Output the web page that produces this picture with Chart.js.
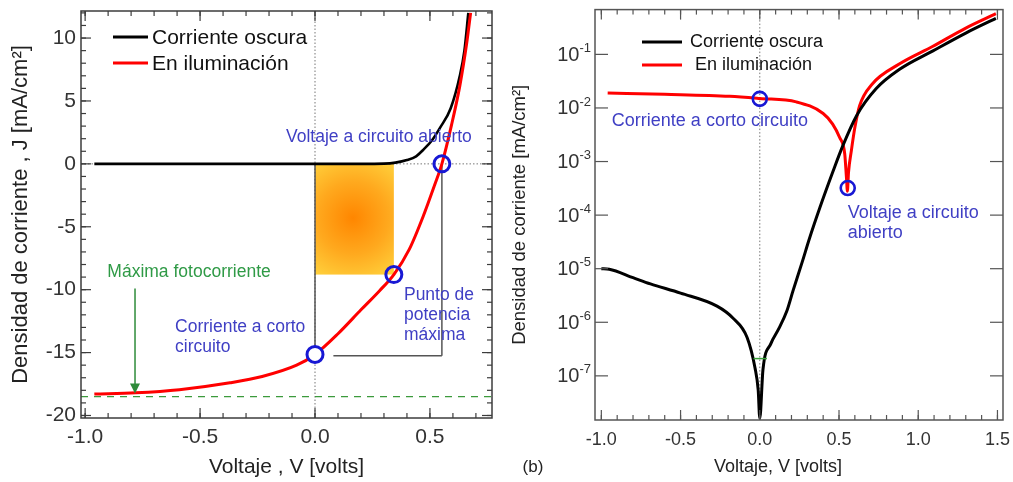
<!DOCTYPE html>
<html><head><meta charset="utf-8">
<script src="https://cdn.jsdelivr.net/npm/chart.js@4.4.1/dist/chart.umd.min.js"></script>
<style>
html,body{margin:0;padding:0;background:#fff;}
#wrap{position:relative;width:1013px;height:482px;overflow:hidden;background:#fff}
.panel{position:absolute;top:0;height:482px}
</style></head><body>
<div id="wrap">
<div class="panel" style="left:0;width:505px"><canvas id="c1"></canvas></div>
<div class="panel" style="left:505px;width:508px"><canvas id="c2"></canvas></div>
</div>
<script>
// ---------- DATA: left panel (linear J-V) ----------
const leftTicksV = [-1.0, -0.5, 0.0, 0.5];
const leftTicksJ = [-20, -15, -10, -5, 0, 5, 10];
const darkV_L  = [-0.96, -0.5, 0.0, 0.2, 0.3, 0.35, 0.40, 0.44, 0.47, 0.51, 0.545, 0.59, 0.63, 0.65, 0.667];
const darkJ_L  = [0, 0, 0, 0, 0.02, 0.1, 0.3, 0.6, 1.1, 1.9, 2.9, 4.4, 7.0, 9.0, 12.0];
const illumV_L = [-0.96, -0.78, -0.59, -0.37, -0.23, -0.08, 0.0, 0.1, 0.2, 0.28, 0.343, 0.41, 0.47, 0.52, 0.552, 0.594, 0.63, 0.66, 0.677];
const illumJ_L = [-18.3, -18.2, -17.95, -17.4, -16.9, -16.0, -15.15, -13.5, -11.6, -10.1, -8.8, -6.8, -4.2, -1.7, 0, 3.1, 6.2, 9.6, 12.0];
const keyV_L = [0.0, 0.343, 0.552];      // Jsc, Pmax, Voc
const keyJ_L = [-15.15, -8.8, 0.0];
const maxPhotoJ = -18.5;
const arrowV = -0.783;

// ---------- DATA: right panel (log |J|-V) ----------
const rightTicksV = [-1.0, -0.5, 0.0, 0.5, 1.0, 1.5];
const rightTicksExp = [-7, -6, -5, -4, -3, -2, -1];
const darkV_R  = [-1.0, -0.95, -0.8, -0.69, -0.5, -0.27, -0.17, -0.08, -0.03, -0.01, 0.0, 0.02, 0.07, 0.12, 0.17, 0.21, 0.27, 0.31, 0.38, 0.46, 0.525, 0.61, 0.735, 0.88, 1.09, 1.3, 1.49];
const darkJ_R  = [1.0e-5, 9.8e-6, 6.8e-6, 5.2e-6, 3.5e-6, 2.0e-6, 1.2e-6, 5.2e-7, 1.4e-7, 5.4e-8, 1.6e-8, 1.3e-7, 4.0e-7, 7.6e-7, 1.6e-6, 3.9e-6, 1.4e-5, 3.4e-5, 1.4e-4, 6.3e-4, 2.0e-3, 7.1e-3, 2.3e-2, 5.2e-2, 0.115, 0.25, 0.47];
const illumV_R = [-0.96, -0.6, -0.19, 0.0, 0.23, 0.4, 0.46, 0.504, 0.536, 0.547, 0.553, 0.56, 0.578, 0.6, 0.63, 0.71, 0.88, 1.09, 1.3, 1.49];
const illumJ_R = [1.9e-2, 1.8e-2, 1.65e-2, 1.5e-2, 1.3e-2, 7.9e-3, 5.0e-3, 2.8e-3, 1.4e-3, 5.0e-4, 2.8e-4, 6.3e-4, 1.6e-3, 4.3e-3, 1.1e-2, 2.8e-2, 6.6e-2, 0.14, 0.31, 0.575];
const keyV_R = [0.0, 0.555];
const keyJ_R = [1.48e-2, 3.2e-4];

// ---------- helpers ----------
const FONT = "'Liberation Sans', Arial, Helvetica, sans-serif";
Chart.defaults.font.family = FONT;
const pts = (xs, ys) => xs.map((v, i) => ({x: v, y: ys[i]}));
const BLUE_TXT = '#3f3fc4', BLUE_CIRC = '#1818d4', GREEN = '#2f9a46';
const noPadY = s => { s.paddingTop = 0; s.paddingBottom = 0; };
const noPadX = s => { s.paddingLeft = 0; s.paddingRight = 0; };

function line(ctx, x1, y1, x2, y2) { ctx.beginPath(); ctx.moveTo(x1, y1); ctx.lineTo(x2, y2); ctx.stroke(); }
function text(ctx, s, x, y, size, color, align) {
  ctx.font = size + 'px ' + FONT; ctx.fillStyle = color; ctx.textAlign = align || 'left'; ctx.textBaseline = 'middle';
  ctx.fillText(s, x, y);
}
function drawFrameTicks(ctx, a, xs, ys, xMajor, xMinor, yMajor, yMinor, color, lMajX, lMinX, lMajY, lMinY) {
  ctx.save();
  ctx.strokeStyle = color; ctx.lineWidth = 1.5; ctx.setLineDash([]);
  ctx.strokeRect(a.left, a.top, a.right - a.left, a.bottom - a.top);
  ctx.lineWidth = 1.2;
  const doX = (vals, len) => vals.forEach(v => { const p = xs.getPixelForValue(v); line(ctx, p, a.bottom, p, a.bottom - len); line(ctx, p, a.top, p, a.top + len); });
  const doY = (vals, len) => vals.forEach(v => { const p = ys.getPixelForValue(v); line(ctx, a.left, p, a.left + len, p); line(ctx, a.right, p, a.right - len, p); });
  doX(xMinor, lMinX); doX(xMajor, lMajX); doY(yMinor, lMinY); doY(yMajor, lMajY);
  ctx.restore();
}

// ---------- LEFT CHART ----------
const leftPlugin = {
  id: 'leftDecor',
  beforeDatasetsDraw(chart) {
    const {ctx, chartArea: a, scales: {x, y}} = chart;
    ctx.save();
    const x0 = x.getPixelForValue(0), x1 = x.getPixelForValue(keyV_L[1]);
    const y0 = y.getPixelForValue(0), y1 = y.getPixelForValue(keyJ_L[1]);
    const cx = x.getPixelForValue(0.165), cy = y.getPixelForValue(-4.3);
    const g = ctx.createRadialGradient(cx, cy, 0, cx, cy, 72);
    g.addColorStop(0, '#ff8600'); g.addColorStop(0.5, '#ffa91e'); g.addColorStop(1, '#ffd640');
    ctx.fillStyle = g; ctx.fillRect(x0, y0, x1 - x0, y1 - y0);
    ctx.strokeStyle = '#777'; ctx.lineWidth = 1; ctx.setLineDash([1.5, 2]);
    line(ctx, x0, a.top, x0, a.bottom);
    line(ctx, a.left, y0, a.right, y0);
    ctx.setLineDash([]); ctx.strokeStyle = '#555'; ctx.lineWidth = 1.5;
    const yj = y.getPixelForValue(keyJ_L[0]), yb = y.getPixelForValue(-15.25), xv = x.getPixelForValue(keyV_L[2]);
    line(ctx, x0, y0, x0, yj);
    line(ctx, xv, y0, xv, yb);
    line(ctx, x.getPixelForValue(0.08), yb, xv, yb);
    ctx.strokeStyle = '#3c9a3c'; ctx.lineWidth = 1.2; ctx.setLineDash([7, 6]);
    const ym = y.getPixelForValue(maxPhotoJ);
    line(ctx, a.left, ym, a.right, ym);
    ctx.restore();
  },
  afterDatasetsDraw(chart) {
    const {ctx, chartArea: a, scales: {x, y}} = chart;
    ctx.save();
    const xa = x.getPixelForValue(arrowV), ya1 = y.getPixelForValue(-9.9), ya2 = y.getPixelForValue(-18.25);
    ctx.strokeStyle = '#2e8b3a'; ctx.fillStyle = '#2e8b3a'; ctx.lineWidth = 1.5;
    line(ctx, xa, ya1, xa, ya2 - 8);
    ctx.beginPath(); ctx.moveTo(xa, ya2); ctx.lineTo(xa - 5, ya2 - 10); ctx.lineTo(xa + 5, ya2 - 10); ctx.closePath(); ctx.fill();
    const P = (v, j) => [x.getPixelForValue(v), y.getPixelForValue(j)];
    let p;
    p = P(0.278, 2.1);  text(ctx, 'Voltaje a circuito abierto', p[0], p[1], 17.5, BLUE_TXT, 'center');
    p = P(-0.609, -13.0); text(ctx, 'Corriente a corto', p[0], p[1], 17.5, BLUE_TXT, 'left');
    p = P(-0.609, -14.57); text(ctx, 'circuito', p[0], p[1], 17.5, BLUE_TXT, 'left');
    p = P(0.387, -10.47); text(ctx, 'Punto de', p[0], p[1], 17.5, BLUE_TXT, 'left');
    p = P(0.387, -12.05); text(ctx, 'potencia', p[0], p[1], 17.5, BLUE_TXT, 'left');
    p = P(0.387, -13.6); text(ctx, 'máxima', p[0], p[1], 17.5, BLUE_TXT, 'left');
    p = P(-0.548, -8.58); text(ctx, 'Máxima fotocorriente', p[0], p[1], 17.5, GREEN, 'center');
    const lx = a.left + 32;
    ctx.lineWidth = 3; ctx.setLineDash([]);
    ctx.strokeStyle = '#000'; line(ctx, lx, a.top + 26, lx + 35, a.top + 26);
    ctx.strokeStyle = '#f00'; line(ctx, lx, a.top + 52, lx + 35, a.top + 52);
    text(ctx, 'Corriente oscura', lx + 39, a.top + 27, 21, '#111', 'left');
    text(ctx, 'En iluminación', lx + 39, a.top + 53, 21, '#111', 'left');
    ctx.restore();
    const xMinor = [], yMinor = [];
    for (let i = -10; i <= 7; i++) xMinor.push(i / 10);
    for (let j = -20; j <= 12; j++) yMinor.push(j);
    drawFrameTicks(ctx, a, x, y, leftTicksV, xMinor, leftTicksJ, yMinor, '#3c3c3c', 10, 5, 10, 5);
  }
};

new Chart(document.getElementById('c1'), {
  type: 'scatter',
  data: {
    datasets: [
      {label: 'key points', data: pts(keyV_L, keyJ_L), showLine: false, pointRadius: 8, pointHoverRadius: 8,
       pointBorderWidth: 3, pointBorderColor: BLUE_CIRC, pointBackgroundColor: ['#ffffff', 'rgba(0,0,0,0)', 'rgba(0,0,0,0)'], order: 0},
      {label: 'En iluminación', data: pts(illumV_L, illumJ_L), showLine: true, borderColor: '#ff0000', borderWidth: 3,
       pointRadius: 0, cubicInterpolationMode: 'monotone', order: 1},
      {label: 'Corriente oscura', data: pts(darkV_L, darkJ_L), showLine: true, borderColor: '#000000', borderWidth: 2.6,
       pointRadius: 0, cubicInterpolationMode: 'monotone', order: 2}
    ]
  },
  options: {
    responsive: true, maintainAspectRatio: false, animation: false, events: [],
    layout: {padding: {left: 0, right: 13, top: 8, bottom: 0}},
    plugins: {legend: {display: false}, tooltip: {enabled: false}},
    scales: {
      x: {type: 'linear', min: -1.018, max: 0.77,
          afterBuildTicks: s => { s.ticks = leftTicksV.map(v => ({value: v})); },
          afterFit: s => { s.height = 64; noPadX(s); },
          grid: {display: false, drawTicks: false}, border: {display: false},
          ticks: {padding: 7, color: '#333', font: {size: 21}, maxRotation: 0, callback: v => Number(v).toFixed(1)},
          title: {display: true, text: 'Voltaje , V [volts]', color: '#222', font: {size: 21}, padding: {top: 0, bottom: 2}}},
      y: {type: 'linear', min: -20.2, max: 12.15,
          afterBuildTicks: s => { s.ticks = leftTicksJ.map(v => ({value: v})); },
          afterFit: s => { s.width = 81; noPadY(s); },
          grid: {display: false, drawTicks: false}, border: {display: false},
          ticks: {padding: 5, color: '#333', font: {size: 21}, callback: v => String(v)},
          title: {display: true, text: 'Densidad de corriente , J [mA/cm²]', color: '#222', font: {size: 22}, padding: {top: 8, bottom: 0}}}
    }
  },
  plugins: [leftPlugin]
});

// ---------- RIGHT CHART ----------
const rightPlugin = {
  id: 'rightDecor',
  beforeDatasetsDraw(chart) {
    const {ctx, chartArea: a, scales: {x}} = chart;
    ctx.save();
    ctx.strokeStyle = '#777'; ctx.lineWidth = 1; ctx.setLineDash([1.5, 2]);
    const x0 = x.getPixelForValue(0);
    line(ctx, x0, a.top, x0, a.bottom);
    ctx.restore();
  },
  afterDatasetsDraw(chart) {
    const {ctx, chartArea: a, scales: {x, y}} = chart;
    ctx.save();
    ctx.strokeStyle = '#3aa03a'; ctx.lineWidth = 1.5;
    const yg = y.getPixelForValue(2.1e-7);
    line(ctx, x.getPixelForValue(-0.04), yg, x.getPixelForValue(0.045), yg);
    const P = (v, j) => [x.getPixelForValue(v), y.getPixelForValue(j)];
    let p;
    p = P(-0.315, 5.75e-3); text(ctx, 'Corriente a corto circuito', p[0], p[1], 18, BLUE_TXT, 'center');
    p = P(0.555, 1.1e-4); text(ctx, 'Voltaje a circuito', p[0], p[1], 18, BLUE_TXT, 'left');
    p = P(0.555, 4.7e-5); text(ctx, 'abierto', p[0], p[1], 18, BLUE_TXT, 'left');
    ctx.lineWidth = 3;
    ctx.strokeStyle = '#000'; line(ctx, 137, 42, 177, 42);
    ctx.strokeStyle = '#f00'; line(ctx, 137, 65, 177, 65);
    text(ctx, 'Corriente oscura', 185, 42, 18, '#111', 'left');
    text(ctx, 'En iluminación', 190, 65, 18, '#111', 'left');
    text(ctx, 'Voltaje, V [volts]', 273, 467, 18, '#222', 'center');
    text(ctx, '(b)', 28, 467, 17, '#222', 'center');
    rightTicksExp.forEach(e => {
      const py = y.getPixelForValue(Math.pow(10, e));
      const expStr = '-' + Math.abs(e);
      ctx.font = '13px ' + FONT; const we = ctx.measureText(expStr).width;
      ctx.font = '20px ' + FONT; const wb = ctx.measureText('10').width;
      const right = a.left - 4;
      text(ctx, '10', right - we - wb, py + 1, 20, '#333', 'left');
      text(ctx, expStr, right - we, py - 6, 13, '#333', 'left');
    });
    ctx.restore();
    const xMinor = [];
    for (let i = -10; i <= 15; i++) xMinor.push(i / 10);
    drawFrameTicks(ctx, a, x, y, rightTicksV, xMinor, rightTicksExp.map(e => Math.pow(10, e)), [], '#555', 10, 5, 13, 0);
  }
};

new Chart(document.getElementById('c2'), {
  type: 'scatter',
  data: {
    datasets: [
      {label: 'key points', data: pts(keyV_R, keyJ_R), showLine: false, pointRadius: 7, pointHoverRadius: 7,
       pointBorderWidth: 2.6, pointBorderColor: BLUE_CIRC, pointBackgroundColor: 'rgba(0,0,0,0)', order: 0},
      {label: 'En iluminación', data: pts(illumV_R, illumJ_R), showLine: true, borderColor: '#ff0000', borderWidth: 3,
       pointRadius: 0, cubicInterpolationMode: 'monotone', order: 2},
      {label: 'Corriente oscura', data: pts(darkV_R, darkJ_R), showLine: true, borderColor: '#000000', borderWidth: 3,
       pointRadius: 0, cubicInterpolationMode: 'monotone', order: 1}
    ]
  },
  options: {
    responsive: true, maintainAspectRatio: false, animation: false, events: [],
    layout: {padding: {left: 0, right: 10, top: 9, bottom: 0}},
    plugins: {legend: {display: false}, tooltip: {enabled: false}},
    scales: {
      x: {type: 'linear', min: -1.04, max: 1.535,
          afterBuildTicks: s => { s.ticks = rightTicksV.map(v => ({value: v})); },
          afterFit: s => { s.height = 62; noPadX(s); },
          grid: {display: false, drawTicks: false}, border: {display: false},
          ticks: {padding: 9, color: '#333', font: {size: 18}, maxRotation: 0, callback: v => Number(v).toFixed(1)}},
      y: {type: 'logarithmic', min: 1.5e-8, max: 0.685,
          afterBuildTicks: s => { s.ticks = rightTicksExp.map(e => ({value: Math.pow(10, e)})); },
          afterFit: s => { s.width = 90; noPadY(s); },
          grid: {display: false, drawTicks: false}, border: {display: false},
          ticks: {display: false},
          title: {display: true, text: 'Densidad de corriente [mA/cm²]', color: '#222', font: {size: 18.5}, padding: {top: 4, bottom: 0}}}
    }
  },
  plugins: [rightPlugin]
});
</script>
</body></html>
